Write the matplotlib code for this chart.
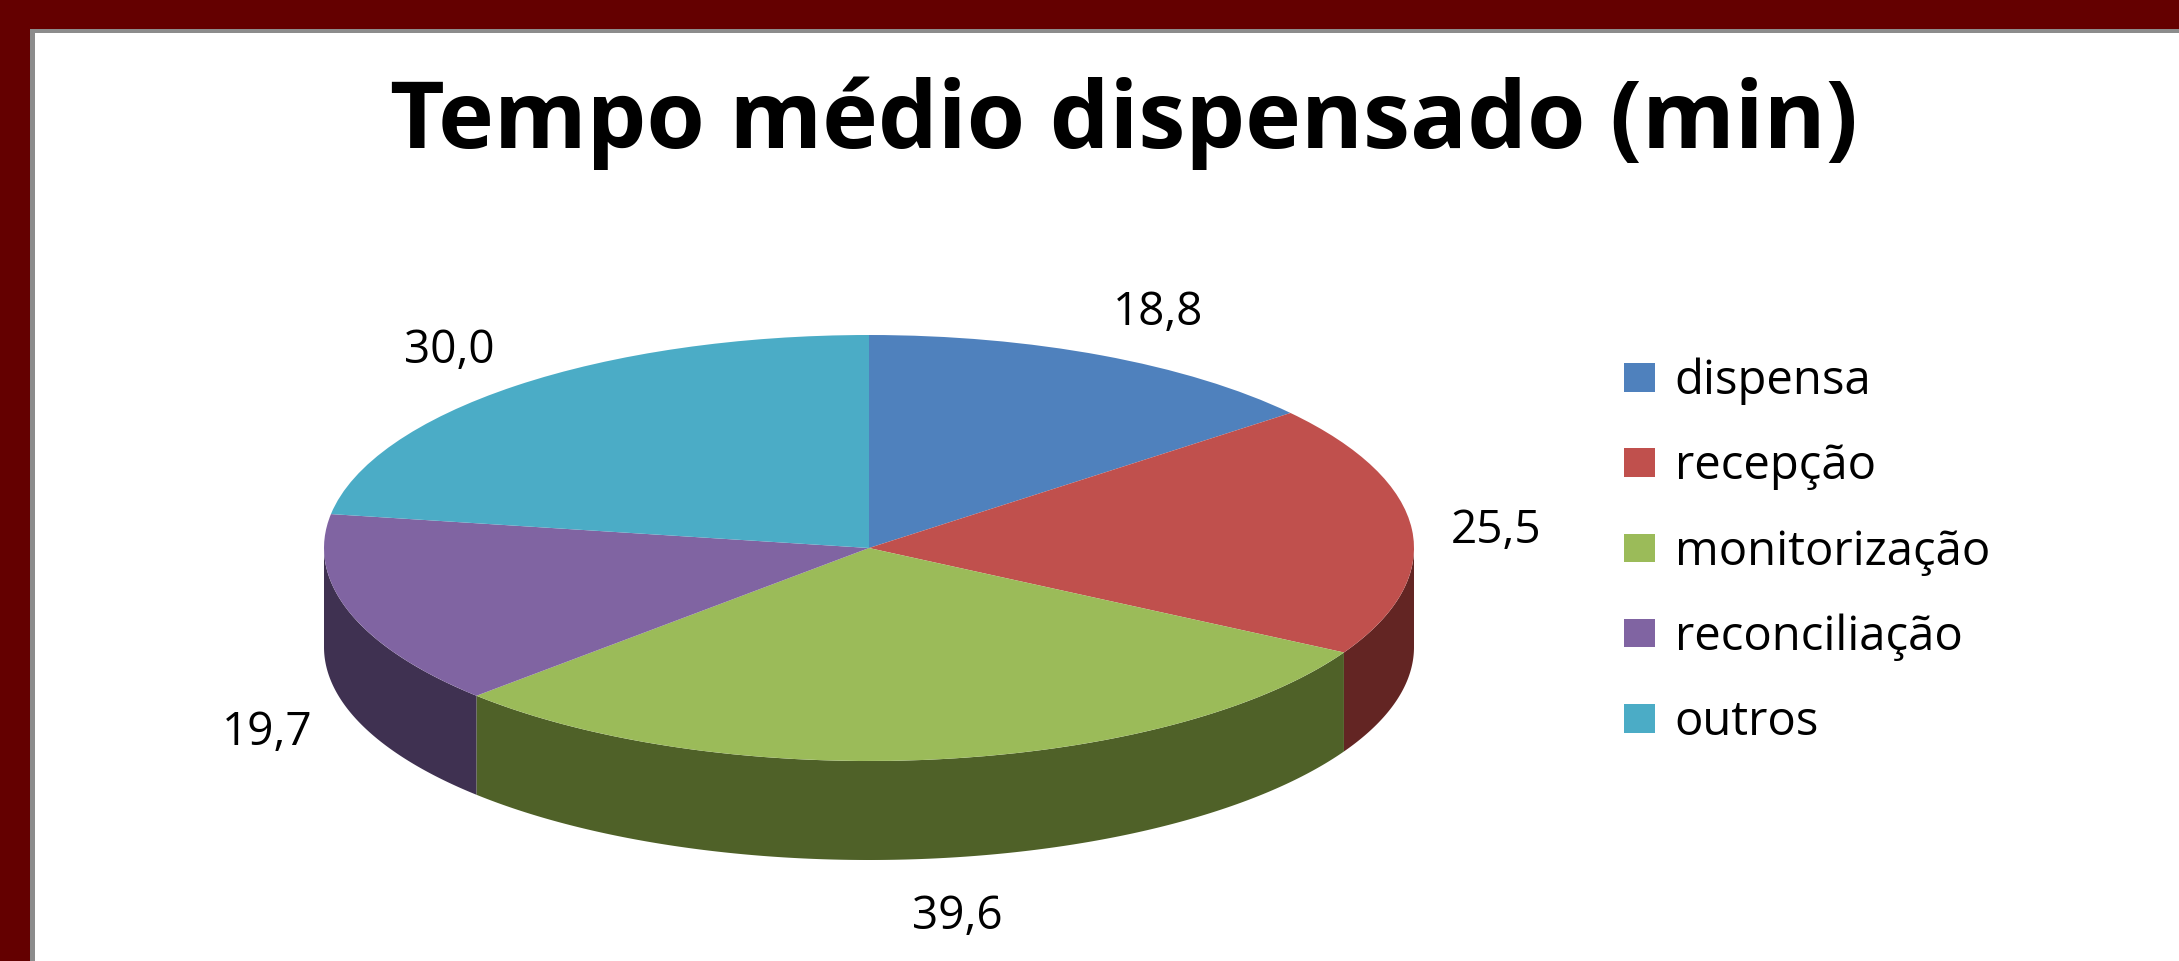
import numpy as np
import matplotlib
matplotlib.use("Agg")
import matplotlib.pyplot as plt
from matplotlib.patches import Rectangle

# Data
categories = ['dispensa', 'recepção', 'monitorização', 'reconciliação', 'outros']
values = [18.8, 25.5, 39.6, 19.7, 30.0]
value_labels = ['18,8', '25,5', '39,6', '19,7', '30,0']
top_colors = ['#4F81BD', '#C0504D', '#9BBB59', '#8064A2', '#4BACC6']
side_colors = ['#385D8A', '#632523', '#4F6128', '#3F3151', '#31859C']

W, H = 2179, 961
cx, cy = 869, 548      # centre of the pie top, pixels
a, b = 545, 213        # semi axes of the ellipse, pixels
depth = 99             # thickness of the pie, pixels

plt.rcParams['font.family'] = ['Open Sans', 'DejaVu Sans']

fig = plt.figure(figsize=(W / 100, H / 100), dpi=100)
fig.patch.set_facecolor('#640000')

# white plot area with a grey edge
fig.patches.append(Rectangle((30 / W, 0), 1, 1 - 29 / H, transform=fig.transFigure,
                             facecolor='#8c8c8c', edgecolor='none', zorder=-2))
fig.patches.append(Rectangle((35 / W, 0), 1, 1 - 33 / H, transform=fig.transFigure,
                             facecolor='white', edgecolor='none', zorder=-1))

ax = fig.add_axes([0, 0, 1, 1])
ax.patch.set_alpha(0)
wedges, _ = ax.pie(values, colors=top_colors, startangle=90, counterclock=False,
                   radius=1, center=(0, 0), frame=False,
                   wedgeprops=dict(linewidth=0, zorder=2))
# stretch the unit circle into the flat ellipse
ax.set_aspect('auto')
ax.set_xlim(-cx / a, (W - cx) / a)
ax.set_ylim((cy - H) / b, cy / b)
ax.axis('off')

d = depth / b
frac = np.cumsum([0] + values) / sum(values)
for i in range(len(values)):
    t_hi = 90 - 360 * frac[i]
    t_lo = 90 - 360 * frac[i + 1]
    lo, hi = max(t_lo, -180), min(t_hi, 0)
    if lo < hi:
        t = np.radians(np.linspace(lo, hi, 200))
        xs = np.concatenate([np.cos(t), np.cos(t)[::-1]])
        ys = np.concatenate([np.sin(t), (np.sin(t) - d)[::-1]])
        ax.fill(xs, ys, color=side_colors[i], linewidth=0, zorder=1)

    # value label outside the slice
    mid = np.radians((t_hi + t_lo) / 2)
    c, s = np.cos(mid), np.sin(mid)
    lx = 1.09 * c + np.sign(c) * min(1, 3 * abs(c)) * 35 / a
    ly = 1.25 * s - 6 / b
    if s < 0:
        ly -= d
    ax.text(lx, ly, value_labels[i], fontsize=33, ha='center', va='center')

fig.text(1124 / W, 1 - 123 / H, 'Tempo médio dispensado (min)', fontsize=68,
         fontweight='bold', ha='center', va='center')

leg = ax.legend(wedges, categories, loc='upper left',
                bbox_to_anchor=(1600 / W, 1 - 334 / H), bbox_transform=fig.transFigure,
                frameon=False, fontsize=34, handlelength=0.66, handleheight=0.55,
                handletextpad=0.42, labelspacing=0.8, borderpad=0)

fig.savefig('out.png', dpi=100, facecolor=fig.get_facecolor())
